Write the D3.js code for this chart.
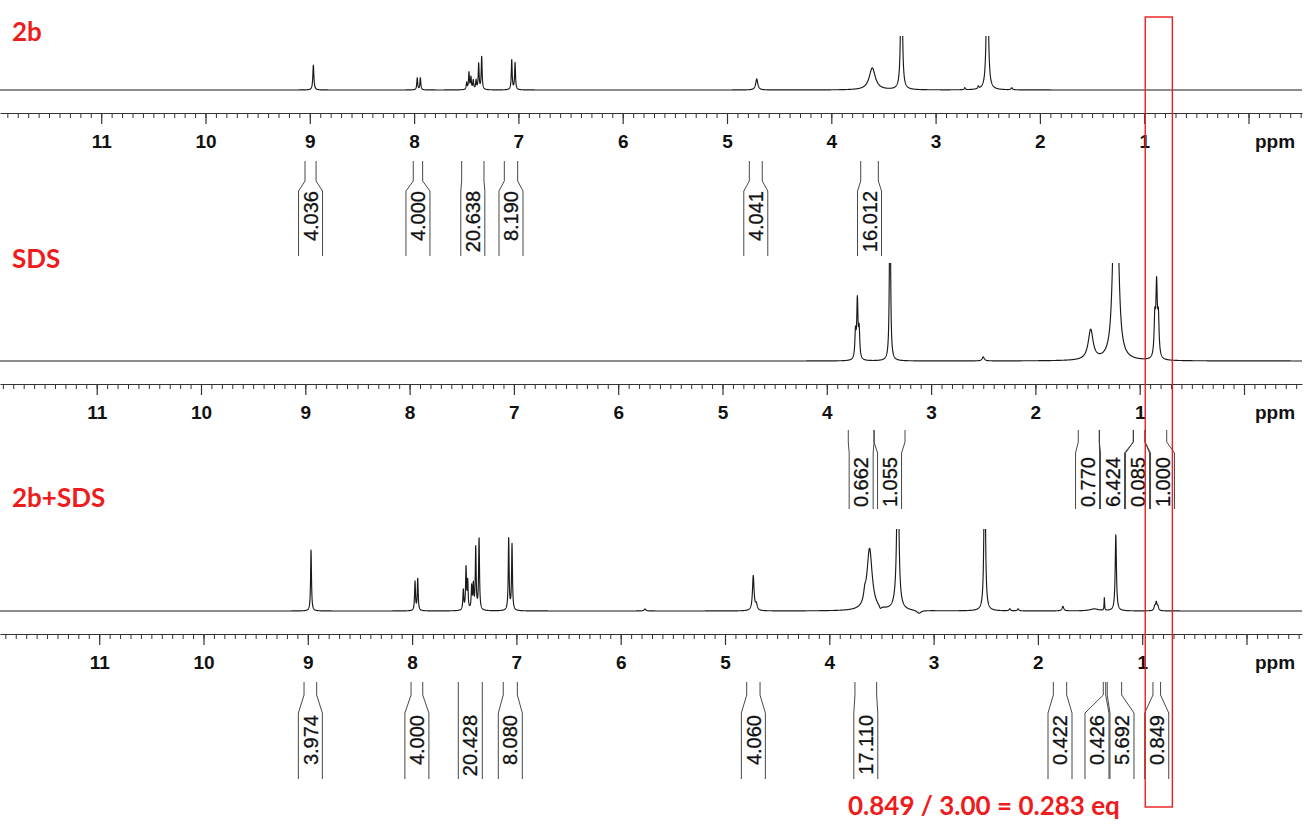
<!DOCTYPE html>
<html>
<head>
<meta charset="utf-8">
<script src="https://cdn.jsdelivr.net/npm/d3@7"></script>
<style>
  body { margin: 0; background: #fff; }
  svg { display: block; }
</style>
</head>
<body>
<svg id="chart" width="1304" height="832"></svg>
<script>
// ---------------- data ----------------
const panelNames = ["2b", "SDS", "2b+SDS"];
const majorTicks = [0, 1, 2, 3, 4, 5, 6, 7, 8, 9, 10, 11];
const tickLabels = ["", "1", "2", "3", "4", "5", "6", "7", "8", "9", "10", "11"];
const unitLabel = "ppm";

// peak lists: [shift (ppm), height (intensity), half-width (ppm)]
const peaks2b = [
  [8.966, 25, 0.006],
  [7.970, 12, 0.005], [7.940, 12, 0.005],
  [7.496, 7, 0.005], [7.474, 17, 0.005], [7.455, 12, 0.005], [7.433, 9, 0.005],
  [7.406, 9, 0.005], [7.381, 26, 0.005], [7.352, 33, 0.005],
  [7.064, 30, 0.005], [7.032, 27, 0.005],
  [4.715, 11, 0.012],
  [3.607, 22, 0.035],
  [3.327, 200, 0.007],
  [2.720, 2, 0.006], [2.590, 2.5, 0.006],
  [2.504, 200, 0.008],
  [2.270, 2, 0.008]
];
const peaksSDS = [
  [3.725, 26, 0.007], [3.707, 58, 0.007], [3.690, 28, 0.007],
  [3.394, 200, 0.006],
  [2.500, 4, 0.012],
  [1.470, 30, 0.028],
  [1.245, 120, 0.021], [1.215, 120, 0.021],
  [0.855, 38, 0.008], [0.838, 70, 0.008], [0.821, 38, 0.008]
];
const peaksMix = [
  [8.969, 61, 0.005],
  [7.972, 29, 0.005], [7.946, 32, 0.005],
  [7.509, 20, 0.005], [7.483, 42, 0.005], [7.467, 28, 0.005], [7.429, 23, 0.005],
  [7.413, 24, 0.005], [7.390, 62, 0.005], [7.358, 72, 0.005],
  [7.074, 72, 0.005], [7.042, 66, 0.005],
  [5.767, 2, 0.01],
  [4.729, 35, 0.009], [4.700, 6, 0.01],
  [3.660, 8, 0.012], [3.614, 62, 0.03],
  [3.510, -3, 0.012],
  [3.343, 200, 0.009], [3.350, 10, 0.028],
  [3.140, -3, 0.025],
  [2.510, 200, 0.007],
  [2.270, 2, 0.008], [2.190, 2, 0.008],
  [1.760, 4.5, 0.01],
  [1.460, 2, 0.05],
  [1.363, 13, 0.003],
  [1.253, 76, 0.007],
  [0.880, 4, 0.008], [0.865, 8, 0.008], [0.850, 4, 0.008]
];

// integrals: [from (ppm), to (ppm), value]
const integrals2b = [
  [9.046, 8.940, "4.036"],
  [8.008, 7.918, "4.000"],
  [7.544, 7.330, "20.638"],
  [7.135, 7.007, "8.190"],
  [4.786, 4.662, "4.041"],
  [3.718, 3.549, "16.012"]
];
const integralsSDS = [
  [3.794, 3.547, "0.662"],
  [3.547, 3.250, "1.055"],
  [1.589, 1.387, "0.770"],
  [1.387, 1.061, "6.424"],
  [1.061, 0.949, "0.085"],
  [0.949, 0.741, "1.000"]
];
const integralsMix = [
  [9.036, 8.915, "3.974"],
  [8.010, 7.898, "4.000"],
  [7.557, 7.327, "20.428"],
  [7.126, 6.991, "8.080"],
  [4.792, 4.664, "4.060"],
  [3.754, 3.546, "17.110"],
  [1.852, 1.724, "0.422"],
  [1.373, 1.350, "0.426"],
  [1.335, 1.197, "5.692"],
  [0.897, 0.824, "0.849"]
];

const highlightRange = [0.99, 0.73];   // ppm window of the SDS CH3 signal
const ratioNote = "0.849 / 3.00 = 0.283 eq";

// ---------------- layout ----------------
const PX_PER_PPM = 104.3;
const AXIS_RIGHT = 1302;
const panels = [
  { name: panelNames[0], peaks: peaks2b,  integrals: integrals2b,  x0: 1248.5, base: 90,  clipTop: 36,  labelY: 41,
    intTop: 48, intLen: 95, flare: [20, 30], textEnd: 30 },
  { name: panelNames[1], peaks: peaksSDS, integrals: integralsSDS, x0: 1244,   base: 361, clipTop: 263, labelY: 268,
    intTop: 46, intLen: 79, flare: [12, 23], textEnd: 27 },
  { name: panelNames[2], peaks: peaksMix, integrals: integralsMix, x0: 1246.5, base: 611, clipTop: 529, labelY: 507,
    intTop: 48, intLen: 97, flare: [13, 31], textEnd: 33 }
];

const RED = "#ee1c1c";
const svg = d3.select("#chart");
const defsSel = svg.append("defs");

// sum of Lorentzian lines at a given shift
function lineshape(peaks, ppm) {
  let s = 0;
  for (const [c, h, g] of peaks) {
    const u = (ppm - c) / g;
    s += h / (1 + u * u);
  }
  return s;
}

// spread integral label boxes so that neighbours do not overlap
function layoutBoxes(items, spacing) {
  items.sort((a, b) => a.cx - b.cx);
  items.forEach(d => d.bx = d.cx);
  for (let it = 0; it < 400; it++) {
    let moved = false;
    for (let i = 1; i < items.length; i++) {
      const a = items[i - 1], b = items[i];
      const ov = spacing - (b.bx - a.bx);
      if (ov > 0.01) { a.bx -= ov / 2; b.bx += ov / 2; moved = true; }
    }
    if (!moved) break;
  }
}

panels.forEach((p, i) => {
  const x = d3.scaleLinear()
    .domain([p.x0 / PX_PER_PPM, (p.x0 - AXIS_RIGHT) / PX_PER_PPM])
    .range([0, AXIS_RIGHT]);
  const y = d3.scaleLinear().domain([0, 100]).range([p.base, p.base - 100]);
  const axisY = p.base + 23;

  const g = svg.append("g").attr("class", "panel");

  // panel title
  g.append("text")
    .attr("x", 12).attr("y", p.labelY)
    .attr("font-family", "Lato, 'Open Sans', sans-serif")
    .attr("font-weight", 700).attr("font-size", 26)
    .attr("fill", RED)
    .text(p.name);

  // spectrum trace
  const [pL, pR] = x.domain();
  const pts = [];
  const step = 0.0012;
  for (let v = pL; v >= pR; v -= step) pts.push([v, lineshape(p.peaks, v)]);
  pts.push([pR, lineshape(p.peaks, pR)]);

  const clipId = "clip" + i;
  defsSel.append("clipPath").attr("id", clipId)
    .append("rect").attr("x", 0).attr("y", p.clipTop)
    .attr("width", AXIS_RIGHT).attr("height", axisY - p.clipTop);

  g.append("path")
    .datum(pts)
    .attr("clip-path", `url(#${clipId})`)
    .attr("fill", "none")
    .attr("stroke", "#1a1a1a")
    .attr("stroke-width", 1.15)
    .attr("stroke-linejoin", "round")
    .attr("d", d3.line().x(d => x(d[0])).y(d => y(d[1])));

  // minor ticks every 0.1 ppm
  const minor = d3.range(Math.ceil(pR * 10), Math.floor(pL * 10) + 1).map(k => k / 10);
  const minorAxis = d3.axisBottom(x).tickValues(minor).tickSize(5).tickSizeOuter(0).tickFormat("");
  const ga = g.append("g").attr("transform", `translate(0,${axisY})`).call(minorAxis);
  ga.selectAll("path, line").attr("stroke", "#333").attr("stroke-width", 1);

  // major ticks with labels
  const majorAxis = d3.axisBottom(x).tickValues(majorTicks).tickSize(11).tickSizeOuter(0)
    .tickFormat((d, k) => tickLabels[k]);
  const gm = g.append("g").attr("transform", `translate(0,${axisY})`).call(majorAxis);
  gm.select(".domain").remove();
  gm.selectAll("line").attr("stroke", "#333").attr("stroke-width", 1.2);
  gm.selectAll("text")
    .attr("y", 35).attr("dy", null)
    .attr("font-family", "'Liberation Sans', Arial, sans-serif")
    .attr("font-weight", 700).attr("font-size", 19).attr("fill", "#111");

  g.append("text")
    .attr("x", 1255).attr("y", axisY + 35)
    .attr("font-family", "'Liberation Sans', Arial, sans-serif")
    .attr("font-weight", 700).attr("font-size", 19).attr("fill", "#111")
    .text(unitLabel);

  // integral brackets and values
  const items = p.integrals.map(([a, b, v]) => {
    const x1 = x(a), x2 = x(b);
    return { x1, x2, cx: (x1 + x2) / 2, v };
  });
  layoutBoxes(items, 25);
  const half = 12;
  const y0 = axisY + p.intTop;
  const yf1 = y0 + p.flare[0], yf2 = y0 + p.flare[1], yEnd = y0 + p.intLen;
  const gi = g.append("g");
  items.forEach(d => {
    const L = d.bx - half, R = d.bx + half;
    gi.append("path")
      .attr("fill", "none").attr("stroke", "#333").attr("stroke-width", 0.9)
      .attr("d", `M${d.x1},${y0}V${yf1}L${L},${yf2}V${yEnd}M${d.x2},${y0}V${yf1}L${R},${yf2}V${yEnd}`);
    gi.append("text")
      .attr("transform", `translate(${d.bx + 7.2},${y0 + p.textEnd}) rotate(-90)`)
      .attr("text-anchor", "end")
      .attr("font-family", "'Liberation Sans', Arial, sans-serif")
      .attr("font-size", 20).attr("fill", "#111")
      .attr("stroke", "#111").attr("stroke-width", 0.3)
      .text(d.v);
  });
});

// highlight box around the SDS methyl signal, drawn across all three panels
const xTop = d3.scaleLinear().domain([0, 1]).range([panels[0].x0, panels[0].x0 - PX_PER_PPM]);
svg.append("rect")
  .attr("x", xTop(highlightRange[0])).attr("y", 17)
  .attr("width", xTop(highlightRange[1]) - xTop(highlightRange[0]))
  .attr("height", 790)
  .attr("fill", "none").attr("stroke", RED).attr("stroke-width", 1.4);

svg.append("text")
  .attr("x", 848).attr("y", 815)
  .attr("font-family", "Lato, 'Open Sans', sans-serif")
  .attr("font-weight", 700).attr("font-size", 26)
  .attr("fill", RED)
  .text(ratioNote);
</script>
</body>
</html>
